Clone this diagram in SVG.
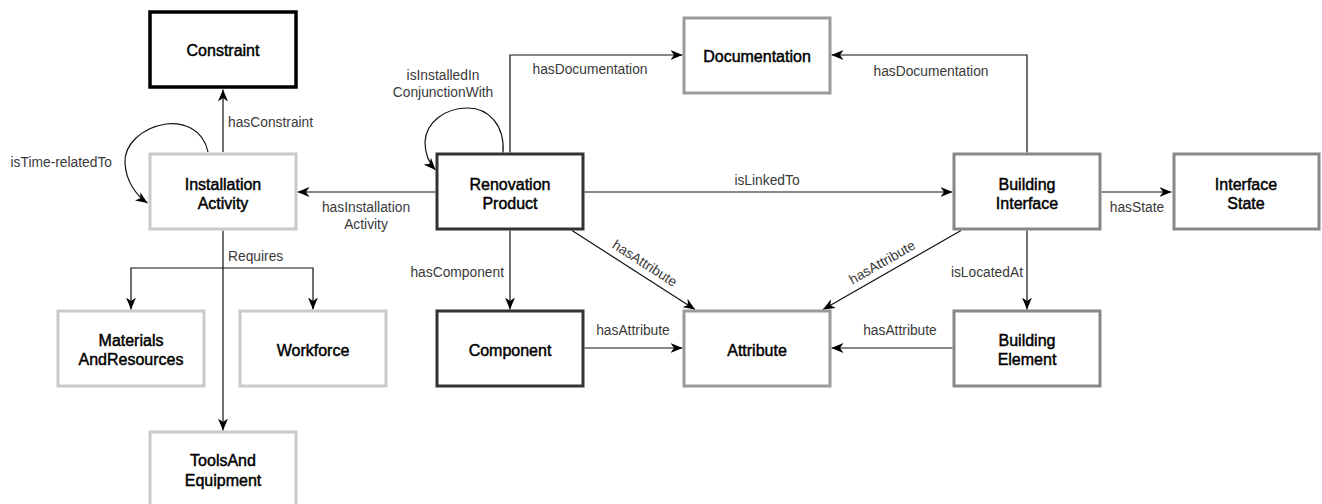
<svg xmlns="http://www.w3.org/2000/svg" width="1322" height="504" viewBox="0 0 1322 504">
<defs>
<marker id="arr" markerUnits="userSpaceOnUse" viewBox="0 0 12 10" refX="12" refY="5" markerWidth="12" markerHeight="10" orient="auto">
<path d="M0,0 L12,5 L0,10 L3.5,5 Z" fill="#000"/>
</marker>
<style>
.box{fill:#fff;stroke-width:3}
.k{stroke:#000;stroke-width:3.5}
.d{stroke:#333}
.m{stroke:#9a9a9a}
.g{stroke:#878787}
.l{stroke:#cacaca}
.nt{font-family:"Liberation Sans",Arial,sans-serif;font-size:16px;fill:#000;stroke:#000;stroke-width:0.45;text-anchor:middle}
.el{font-family:"Liberation Sans",Arial,sans-serif;font-size:13.8px;fill:#3a3a3a}
.c{fill:none;stroke:#111;stroke-width:1.2}
.a{marker-end:url(#arr)}
</style>
</defs>
<rect width="1322" height="504" fill="#fff"/>
<g id="connectors">
<path class="c a" d="M223,152 L223,89.5"/>
<path class="c a" d="M208,152 C203,128 182,122 166,124 C141,128 124,145 125,163 C126,182 137,196 147.5,203"/>
<path class="c a" d="M435.5,192 L297.5,192"/>
<path class="c a" d="M503,152.5 C505,125 488,108 468,108 C445,108 426,122 425,142 C425,155 429,163 435.5,170"/>
<path class="c a" d="M510,152.5 L510,55 L682.5,55"/>
<path class="c a" d="M1027,152.5 L1027,55 L831.5,55"/>
<path class="c a" d="M584.5,192 L952.5,192"/>
<path class="c a" d="M1101.5,192 L1171.5,192"/>
<path class="c a" d="M510,230.5 L510,309.5"/>
<path class="c a" d="M572,230.5 L695,309.5"/>
<path class="c a" d="M961,230.5 L823,309.5"/>
<path class="c a" d="M1027,230.5 L1027,309.5"/>
<path class="c a" d="M584.5,348 L682.5,348"/>
<path class="c a" d="M952.5,348 L831.5,348"/>
<path class="c a" d="M223,230.5 L223,430.5"/>
<path class="c a" d="M223,268 L131,268 L131,309.5"/>
<path class="c a" d="M223,268 L313,268 L313,309.5"/>
<text class="el" x="228" y="127">hasConstraint</text>
<text class="el" x="112" y="167" text-anchor="end">isTime-relatedTo</text>
<text class="el" x="366" y="212" text-anchor="middle">hasInstallation</text>
<text class="el" x="366" y="229" text-anchor="middle">Activity</text>
<text class="el" x="443" y="80" text-anchor="middle">isInstalledIn</text>
<text class="el" x="443" y="97" text-anchor="middle">ConjunctionWith</text>
<text class="el" x="590" y="74" text-anchor="middle">hasDocumentation</text>
<text class="el" x="931" y="76" text-anchor="middle">hasDocumentation</text>
<text class="el" x="767" y="185" text-anchor="middle">isLinkedTo</text>
<text class="el" x="1137" y="212" text-anchor="middle">hasState</text>
<text class="el" x="504" y="277" text-anchor="end">hasComponent</text>
<text class="el" x="1023" y="277" text-anchor="end">isLocatedAt</text>
<text class="el" x="633" y="335" text-anchor="middle">hasAttribute</text>
<text class="el" x="900" y="335" text-anchor="middle">hasAttribute</text>
<text class="el" x="228" y="261">Requires</text>
<text class="el" text-anchor="middle" transform="translate(645,263) rotate(32.7)" y="5">hasAttribute</text>
<text class="el" text-anchor="middle" transform="translate(882,262) rotate(-29.8)" y="5">hasAttribute</text>
</g>
<g id="constraint"><rect class="box k" x="150" y="12" width="146" height="75"/><text class="nt" x="223" y="56">Constraint</text></g>
<g id="installation-activity"><rect class="box l" x="150" y="154" width="146" height="75"/><text class="nt" x="223" y="190">Installation</text><text class="nt" x="223" y="209">Activity</text></g>
<g id="renovation-product"><rect class="box d" x="437" y="154" width="146" height="75"/><text class="nt" x="510" y="190">Renovation</text><text class="nt" x="510" y="209">Product</text></g>
<g id="documentation"><rect class="box m" x="684" y="18" width="146" height="75"/><text class="nt" x="757" y="62">Documentation</text></g>
<g id="building-interface"><rect class="box g" x="954" y="154" width="146" height="75"/><text class="nt" x="1027" y="190">Building</text><text class="nt" x="1027" y="209">Interface</text></g>
<g id="interface-state"><rect class="box g" x="1174" y="154" width="145" height="75"/><text class="nt" x="1246" y="190">Interface</text><text class="nt" x="1246" y="209">State</text></g>
<g id="materials"><rect class="box l" x="58" y="311" width="146" height="75"/><text class="nt" x="131" y="346">Materials</text><text class="nt" x="131" y="365">AndResources</text></g>
<g id="workforce"><rect class="box l" x="240" y="311" width="146" height="75"/><text class="nt" x="313" y="356">Workforce</text></g>
<g id="component"><rect class="box d" x="437" y="311" width="146" height="75"/><text class="nt" x="510" y="356">Component</text></g>
<g id="attribute"><rect class="box m" x="684" y="311" width="146" height="75"/><text class="nt" x="757" y="356">Attribute</text></g>
<g id="building-element"><rect class="box g" x="954" y="311" width="146" height="75"/><text class="nt" x="1027" y="346">Building</text><text class="nt" x="1027" y="365">Element</text></g>
<g id="tools"><rect class="box l" x="150" y="432" width="146" height="75"/><text class="nt" x="223" y="466">ToolsAnd</text><text class="nt" x="223" y="486">Equipment</text></g>
</svg>
